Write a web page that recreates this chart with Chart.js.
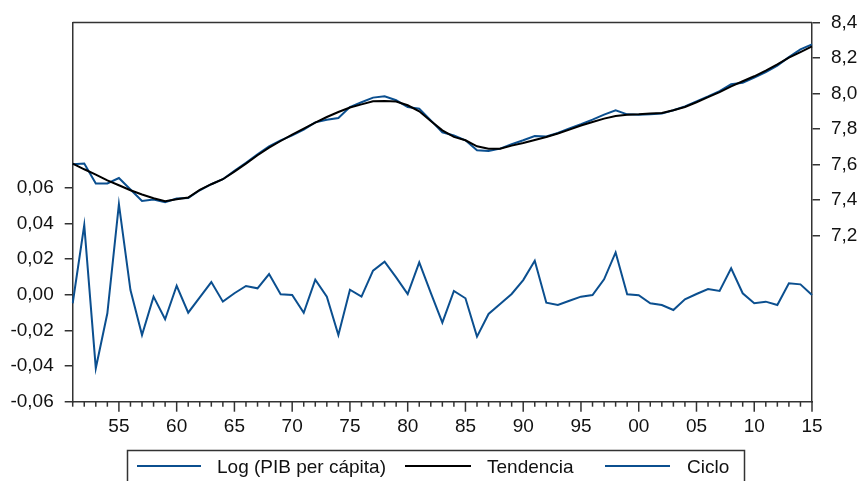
<!DOCTYPE html>
<html>
<head>
<meta charset="utf-8">
<script src="https://cdn.jsdelivr.net/npm/chart.js@4"></script>
<style>
html,body{margin:0;padding:0;background:#fff;}
#wrap{width:860px;height:481px;position:relative;}
</style>
</head>
<body>
<div id="wrap"><canvas id="c" width="860" height="481"></canvas></div>
<script>
const years = [];
for (let y = 1951; y <= 2015; y++) years.push(y);

const logPib = [
7.602,7.606,7.494,7.494,7.525,7.460,7.396,7.404,7.389,7.410,
7.413,7.456,7.490,7.518,7.565,7.610,7.658,7.703,7.737,7.765,
7.797,7.838,7.853,7.862,7.924,7.951,7.977,7.984,7.962,7.924,
7.915,7.849,7.782,7.764,7.737,7.681,7.677,7.690,7.715,7.737,
7.761,7.758,7.778,7.803,7.827,7.853,7.881,7.906,7.883,7.881,
7.883,7.887,7.906,7.928,7.956,7.984,8.014,8.052,8.061,8.089,
8.121,8.157,8.205,8.248,8.276
];

const tendencia = [
7.606,7.574,7.544,7.512,7.484,7.456,7.432,7.411,7.394,7.406,
7.415,7.458,7.490,7.518,7.561,7.606,7.653,7.696,7.733,7.769,
7.803,7.836,7.868,7.896,7.921,7.939,7.956,7.958,7.955,7.934,
7.900,7.846,7.793,7.756,7.737,7.703,7.690,7.690,7.707,7.722,
7.739,7.756,7.775,7.797,7.820,7.840,7.859,7.874,7.881,7.883,
7.887,7.890,7.906,7.924,7.951,7.980,8.008,8.040,8.069,8.097,
8.129,8.164,8.202,8.233,8.265
];

const ciclo = [
-0.0048,0.0390,-0.0412,-0.0104,0.0508,0.0026,-0.0226,-0.0011,-0.0138,0.0050,
-0.0101,-0.0015,0.0071,-0.0039,0.0008,0.0049,0.0036,0.0116,0.0002,-0.0002,
-0.0101,0.0084,-0.0011,-0.0226,0.0028,-0.0011,0.0135,0.0185,0.0097,0.0004,
0.0181,0.0010,-0.0157,0.0021,-0.0020,-0.0235,-0.0108,-0.0052,0.0004,0.0082,
0.0190,-0.0045,-0.0058,-0.0034,-0.0011,-0.0002,0.0086,0.0237,0.0002,-0.0003,
-0.0048,-0.0058,-0.0086,-0.0026,0.0004,0.0032,0.0021,0.0148,0.0008,-0.0048,
-0.0039,-0.0058,0.0064,0.0058,-0.0002
];

const leftTicks = [-0.06,-0.04,-0.02,0.00,0.02,0.04,0.06];
const rightTicks = [7.2,7.4,7.6,7.8,8.0,8.2,8.4];
const seriesNames = ['Log (PIB per cápita)','Tendencia','Ciclo'];

const BLUE = '#0b4f8f';
const AXIS = '#333333';
const FONT = "'Liberation Sans', Arial, sans-serif";

const framePlugin = {
  id: 'frame',
  beforeDatasetsDraw(chart) {
    const {ctx, chartArea: a} = chart;
    ctx.save();
    ctx.strokeStyle = AXIS;
    ctx.lineWidth = 1.5;
    ctx.beginPath();
    ctx.moveTo(a.left, a.top);
    ctx.lineTo(a.right, a.top);
    ctx.stroke();
    const xs = chart.scales.x;
    for (let i = 0; i < years.length; i++) {
      const px = xs.getPixelForValue(i);
      const len = years[i] % 5 === 0 ? 10 : 5;
      ctx.beginPath();
      ctx.moveTo(px, a.bottom);
      ctx.lineTo(px, a.bottom + len);
      ctx.stroke();
    }
    ctx.restore();
  },
  afterDraw(chart) {
    const ctx = chart.ctx;
    ctx.save();
    ctx.strokeStyle = AXIS;
    ctx.lineWidth = 1.5;
    ctx.strokeRect(127.5, 450.5, 617, 40);
    const items = [
      {x1: 137, x2: 201, tx: 217, color: BLUE, label: seriesNames[0]},
      {x1: 405, x2: 471, tx: 487, color: '#000', label: seriesNames[1]},
      {x1: 605, x2: 670, tx: 687, color: BLUE, label: seriesNames[2]}
    ];
    ctx.font = '19px ' + FONT;
    ctx.textBaseline = 'middle';
    ctx.textAlign = 'left';
    ctx.fillStyle = '#111';
    items.forEach(it => {
      ctx.strokeStyle = it.color;
      ctx.lineWidth = 2;
      ctx.beginPath();
      ctx.moveTo(it.x1, 466);
      ctx.lineTo(it.x2, 466);
      ctx.stroke();
      ctx.fillText(it.label, it.tx, 468);
    });
    ctx.restore();
  }
};

const fmtComma = (v, d) => {
  let s = Number(v).toFixed(d);
  if (/^-0[.,]0+$/.test(s)) s = s.slice(1);
  return s.replace('.', ',');
};

new Chart(document.getElementById('c'), {
  type: 'line',
  data: {
    labels: years,
    datasets: [
      {label: seriesNames[0], data: logPib, yAxisID: 'yR', borderColor: BLUE, borderWidth: 2, pointRadius: 0, tension: 0, order: 2},
      {label: seriesNames[1], data: tendencia, yAxisID: 'yR', borderColor: '#000', borderWidth: 2, pointRadius: 0, tension: 0, order: 1},
      {label: seriesNames[2], data: ciclo, yAxisID: 'yL', borderColor: BLUE, borderWidth: 2, pointRadius: 0, tension: 0, order: 3}
    ]
  },
  options: {
    responsive: false,
    animation: false,
    layout: {padding: {top: 22, left: 0, right: 0, bottom: 0}},
    plugins: {legend: {display: false}, tooltip: {enabled: false}},
    scales: {
      x: {
        type: 'category',
        offset: false,
        grid: {display: false},
        border: {display: true, color: AXIS, width: 1.5},
        ticks: {
          autoSkip: false, maxRotation: 0, padding: 6,
          color: '#111', font: {family: FONT, size: 19},
          callback: (v, i) => years[i] % 5 === 0 ? String(years[i]).slice(2) : ''
        },
        afterFit: s => { s.height = 79.3; }
      },
      yL: {
        position: 'left',
        min: -0.06, max: 0.1527,
        afterBuildTicks: s => { s.ticks = leftTicks.map(v => ({value: v})); },
        grid: {drawOnChartArea: false, drawTicks: true, tickLength: 8, color: AXIS, lineWidth: 1.5},
        border: {display: true, color: AXIS, width: 1.5},
        ticks: {padding: 11, color: '#111', font: {family: FONT, size: 19}, callback: v => fmtComma(v, 2)},
        afterFit: s => { s.width = 72.7; }
      },
      yR: {
        position: 'right',
        min: 6.2669, max: 8.4,
        afterBuildTicks: s => { s.ticks = rightTicks.map(v => ({value: v})); },
        grid: {drawOnChartArea: false, drawTicks: true, tickLength: 8, color: AXIS, lineWidth: 1.5},
        border: {display: true, color: AXIS, width: 1.5},
        ticks: {padding: 11, color: '#111', font: {family: FONT, size: 19}, callback: v => fmtComma(v, 1)},
        afterFit: s => { s.width = 48; }
      }
    }
  },
  plugins: [framePlugin]
});
</script>
</body>
</html>
